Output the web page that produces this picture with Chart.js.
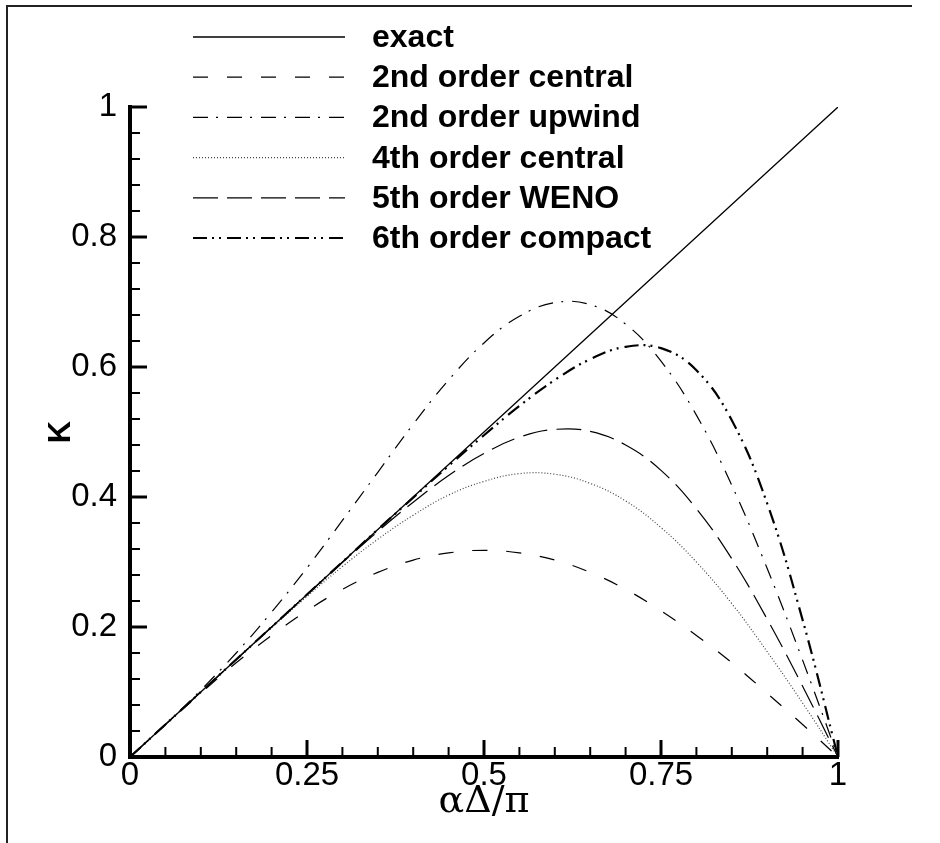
<!DOCTYPE html>
<html>
<head>
<meta charset="utf-8">
<script src="https://cdn.jsdelivr.net/npm/chart.js@4.4.1/dist/chart.umd.min.js"></script>
<style>
  html, body { margin: 0; padding: 0; background: #fff; }
  #wrap { position: relative; width: 940px; height: 843px; }
</style>
</head>
<body>
<div id="wrap"><canvas id="kappa" width="940" height="843"></canvas></div>
<script>
// Modified wavenumber vs. scaled wavenumber

const alphaDelta = [0, 0.05, 0.1, 0.15, 0.2, 0.25, 0.3, 0.35, 0.4, 0.45, 0.5,
                    0.55, 0.6, 0.65, 0.7, 0.75, 0.8, 0.85, 0.9, 0.95, 1];

const exact    = [0, 0.05, 0.1, 0.15, 0.2, 0.25, 0.3, 0.35, 0.4, 0.45, 0.5,
                  0.55, 0.6, 0.65, 0.7, 0.75, 0.8, 0.85, 0.9, 0.95, 1];
const central2 = [0, 0.050, 0.098, 0.145, 0.187, 0.225, 0.258, 0.284, 0.303, 0.314, 0.318,
                  0.314, 0.303, 0.284, 0.258, 0.225, 0.187, 0.145, 0.098, 0.050, 0];
const upwind2  = [0, 0.050, 0.103, 0.160, 0.223, 0.291, 0.364, 0.438, 0.512, 0.580, 0.637,
                  0.678, 0.699, 0.696, 0.666, 0.609, 0.526, 0.418, 0.290, 0.149, 0];
const central4 = [0, 0.050, 0.100, 0.150, 0.199, 0.247, 0.293, 0.335, 0.372, 0.403, 0.424,
                  0.436, 0.435, 0.421, 0.394, 0.353, 0.300, 0.236, 0.162, 0.083, 0];
const weno5    = [0, 0.050, 0.100, 0.150, 0.200, 0.250, 0.299, 0.347, 0.392, 0.433, 0.467,
                  0.492, 0.504, 0.501, 0.480, 0.441, 0.382, 0.305, 0.212, 0.109, 0];
const compact6 = [0, 0.050, 0.100, 0.150, 0.200, 0.250, 0.300, 0.350, 0.399, 0.448, 0.495,
                  0.540, 0.580, 0.612, 0.631, 0.629, 0.595, 0.518, 0.390, 0.211, 0];

const seriesNames = ['exact', '2nd order central', '2nd order upwind',
                     '4th order central', '5th order WENO', '6th order compact'];

// tick positions (minor + major) and the ones that get a label
const xTickValues = [0, 0.05, 0.1, 0.15, 0.2, 0.25, 0.3, 0.35, 0.4, 0.45, 0.5,
                     0.55, 0.6, 0.65, 0.7, 0.75, 0.8, 0.85, 0.9, 0.95, 1];
const xTickLabels = [0, 0.25, 0.5, 0.75, 1];
const yTickValues = [0, 0.04, 0.08, 0.12, 0.16, 0.2, 0.24, 0.28, 0.32, 0.36, 0.4,
                     0.44, 0.48, 0.52, 0.56, 0.6, 0.64, 0.68, 0.72, 0.76, 0.8,
                     0.84, 0.88, 0.92, 0.96, 1];
const yTickLabels = [0, 0.2, 0.4, 0.6, 0.8, 1];

const SANS = "'Liberation Sans', Helvetica, Arial, sans-serif";

function pts(ys){
    return alphaDelta.map((x, i) => ({x: x, y: ys[i]}));
}

const lineStyles = [
    {data: exact,    width: 1.3, dash: [],                    color: '#000'},
    {data: central2, width: 1.2, dash: [15, 19],              color: '#000'},
    {data: upwind2,  width: 1.2, dash: [15, 8, 2, 9],         color: '#000'},
    {data: central4, width: 1.2, dash: [1, 2],                color: '#444'},
    {data: weno5,    width: 1.2, dash: [25, 9],               color: '#000'},
    {data: compact6, width: 2.2, dash: [14, 5, 2, 5, 2, 6],   color: '#000'}
];

const datasets = lineStyles.map((s, i) => ({
    label: seriesNames[i],
    data: pts(s.data),
    borderColor: s.color,
    borderWidth: s.width,
    borderDash: s.dash,
    pointRadius: 0,
    fill: false,
    tension: 0.4
}));

// frame around the figure
const framePlugin = {
    id: 'frame',
    beforeDraw(chart){
        const ctx = chart.ctx;
        ctx.save();
        ctx.strokeStyle = '#222';
        ctx.lineWidth = 2;
        ctx.beginPath();
        ctx.moveTo(7, 843);
        ctx.lineTo(7, 6);
        ctx.lineTo(912, 6);
        ctx.stroke();
        ctx.restore();
    }
};

// inward major/minor tick marks
const tickMarks = {
    id: 'tickMarks',
    afterDraw(chart){
        const ctx = chart.ctx;
        const xs = chart.scales.x, ys = chart.scales.y;
        const area = chart.chartArea;
        ctx.save();
        ctx.strokeStyle = '#000';
        xs.ticks.forEach(t => {
            const major = xTickLabels.includes(t.value);
            const px = xs.getPixelForValue(t.value);
            ctx.lineWidth = major ? 3 : 2;
            ctx.beginPath();
            ctx.moveTo(px, area.bottom);
            ctx.lineTo(px, area.bottom - (major ? 17 : 10));
            ctx.stroke();
        });
        ys.ticks.forEach(t => {
            const major = yTickLabels.includes(t.value);
            const py = ys.getPixelForValue(t.value);
            ctx.lineWidth = major ? 3 : 2;
            ctx.beginPath();
            ctx.moveTo(area.left - 2, py);
            ctx.lineTo(area.left + (major ? 17 : 10), py);
            ctx.stroke();
        });
        ctx.restore();
    }
};

// legend drawn as line samples + bold labels in the upper left
const lineLegend = {
    id: 'lineLegend',
    afterDraw(chart){
        const ctx = chart.ctx;
        ctx.save();
        ctx.font = 'bold 32px ' + SANS;
        ctx.fillStyle = '#000';
        ctx.textBaseline = 'alphabetic';
        chart.data.datasets.forEach((ds, i) => {
            const y = 37 + i * 40.2;
            ctx.strokeStyle = ds.borderColor;
            ctx.lineWidth = ds.borderWidth;
            ctx.setLineDash(ds.borderDash);
            ctx.beginPath();
            ctx.moveTo(193, y);
            ctx.lineTo(345, y);
            ctx.stroke();
            ctx.setLineDash([]);
            ctx.fillText(ds.label, 372, y + 10);
        });
        ctx.restore();
    }
};

document.addEventListener('DOMContentLoaded', function(){
    const ctx = document.getElementById('kappa');
    new Chart(ctx, {
        type: 'line',
        data: {datasets: datasets},
        plugins: [framePlugin, tickMarks, lineLegend],
        options: {
            responsive: false,
            animation: false,
            devicePixelRatio: 1,
            layout: {padding: {top: 107, right: 102, left: 0, bottom: 0}},
            plugins: {legend: {display: false}, tooltip: {enabled: false}},
            scales: {
                x: {
                    type: 'linear',
                    min: 0, max: 1,
                    afterBuildTicks: s => { s.ticks = xTickValues.map(v => ({value: v})); },
                    afterFit: s => { s.height = 86; },
                    grid: {display: false, drawTicks: false},
                    border: {display: true, color: '#000', width: 4},
                    ticks: {
                        autoSkip: false, maxRotation: 0, padding: 2, color: '#000',
                        font: {family: SANS, size: 33, lineHeight: 1},
                        callback: v => xTickLabels.includes(v) ? String(v) : ''
                    },
                    title: {
                        display: true, text: 'αΔ/π', color: '#000',
                        font: {family: "'DejaVu Serif', 'Liberation Serif', serif", size: 38},
                        padding: {top: 0, bottom: 18}
                    }
                },
                y: {
                    type: 'linear',
                    min: 0, max: 1,
                    afterBuildTicks: s => { s.ticks = yTickValues.map(v => ({value: v})); },
                    afterFit: s => { s.width = 130; },
                    grid: {display: false, drawTicks: false},
                    border: {display: true, color: '#000', width: 4},
                    ticks: {
                        autoSkip: false, padding: 13, color: '#000',
                        font: {family: SANS, size: 33},
                        callback: v => yTickLabels.includes(v) ? String(v) : ''
                    },
                    title: {
                        display: true, text: 'K', color: '#000',
                        font: {family: SANS, size: 31, weight: 'bold'},
                        padding: {top: 43, bottom: 0}
                    }
                }
            }
        }
    });
});
</script>
</body>
</html>
